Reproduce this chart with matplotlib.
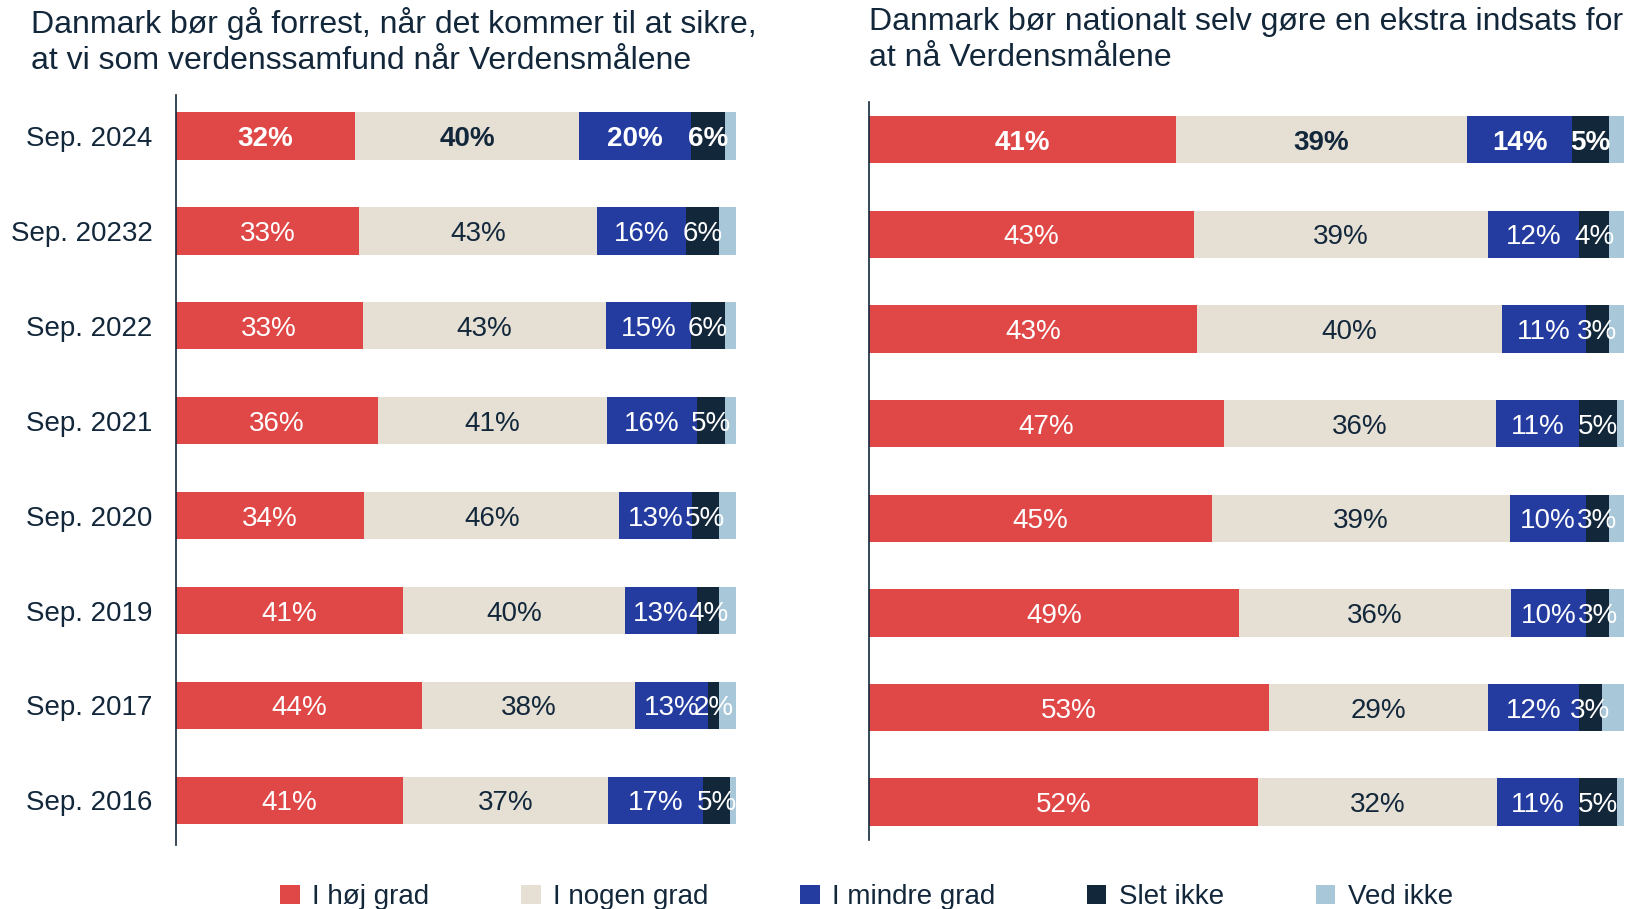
import matplotlib.pyplot as plt
from matplotlib.patches import Patch

plt.rcParams["font.family"] = ["Liberation Sans", "DejaVu Sans"]

DARK = "#13273B"

periods = ["Sep. 2024", "Sep. 20232", "Sep. 2022", "Sep. 2021",
           "Sep. 2020", "Sep. 2019", "Sep. 2017", "Sep. 2016"]

categories = ["I høj grad", "I nogen grad", "I mindre grad", "Slet ikke", "Ved ikke"]
colors = ["#E04747", "#E6E0D4", "#243C9F", "#13273B", "#A8C7D8"]
label_colors = ["white", DARK, "white", "white", None]

# venstre: gå forrest
left_hoej = [32, 33, 33, 36, 34, 41, 44, 41]
left_nogen = [40, 43, 43, 41, 46, 40, 38, 37]
left_mindre = [20, 16, 15, 16, 13, 13, 13, 17]
left_slet = [6, 6, 6, 5, 5, 4, 2, 5]
left_ved = [2, 3, 2, 2, 3, 3, 3, 1]

# højre: nationalt ekstra indsats
right_hoej = [41, 43, 43, 47, 45, 49, 53, 52]
right_nogen = [39, 39, 40, 36, 39, 36, 29, 32]
right_mindre = [14, 12, 11, 11, 10, 10, 12, 11]
right_slet = [5, 4, 3, 5, 3, 3, 3, 5]
right_ved = [2, 2, 2, 1, 2, 2, 3, 1]

title_left = "Danmark bør gå forrest, når det kommer til at sikre,\nat vi som verdenssamfund når Verdensmålene"
title_right = "Danmark bør nationalt selv gøre en ekstra indsats for\nat nå Verdensmålene"


def draw_panel(ax, series, ylim, show_labels):
    """Stacked horizontal bars, normalised to 100 per row."""
    totals = [sum(vals) for vals in zip(*series)]
    rows = list(range(len(periods)))
    left = [0.0] * len(periods)

    for i, vals in enumerate(series):
        widths = [v / t * 100 for v, t in zip(vals, totals)]
        ax.barh(rows, widths, left=left, height=0.5, color=colors[i],
                edgecolor="none")
        if label_colors[i] is not None:
            for r, (v, w, l) in enumerate(zip(vals, widths, left)):
                ax.text(l + w / 2, r, f"{v}%", ha="center", va="center_baseline",
                        fontsize=20, color=label_colors[i],
                        fontweight="bold" if r == 0 else "normal")
        left = [l + w for l, w in zip(left, widths)]

    ax.set_xlim(0, 100)
    ax.set_ylim(*ylim)
    ax.set_xticks([])
    for side in ["top", "right", "bottom"]:
        ax.spines[side].set_visible(False)
    ax.spines["left"].set_color(DARK)
    ax.spines["left"].set_linewidth(1.2)
    if show_labels:
        ax.set_yticks(range(len(periods)))
        ax.set_yticklabels(periods, fontsize=20, color=DARK)
        ax.tick_params(axis="y", length=0, pad=17)
    else:
        ax.set_yticks([])


def main():
    fig = plt.figure(figsize=(16.26, 9.09), dpi=100)

    ax1 = fig.add_axes([0.1082, 0.0704, 0.3444, 0.825])
    draw_panel(ax1, [left_hoej, left_nogen, left_mindre, left_slet, left_ved],
               (7.47, -0.43), True)

    ax2 = fig.add_axes([0.5344, 0.0759, 0.4645, 0.812])
    draw_panel(ax2, [right_hoej, right_nogen, right_mindre, right_slet, right_ved],
               (7.40, -0.40), False)

    fig.text(0.019, 0.992, title_left, ha="left", va="top", fontsize=23,
             color=DARK, linespacing=1.25)
    fig.text(0.5344, 0.992, title_right, ha="left", va="top", fontsize=23,
             color=DARK, linespacing=1.25)

    handles = [Patch(facecolor=c, edgecolor="none") for c in colors]
    fig.legend(handles, categories, loc="center", bbox_to_anchor=(0.533, 0.013),
               ncol=5, frameon=False, fontsize=20, labelcolor=DARK,
               handlelength=0.7, handleheight=0.7, handletextpad=0.45,
               columnspacing=3.3)

    fig.savefig("out.png", dpi=100)


if __name__ == "__main__":
    main()
